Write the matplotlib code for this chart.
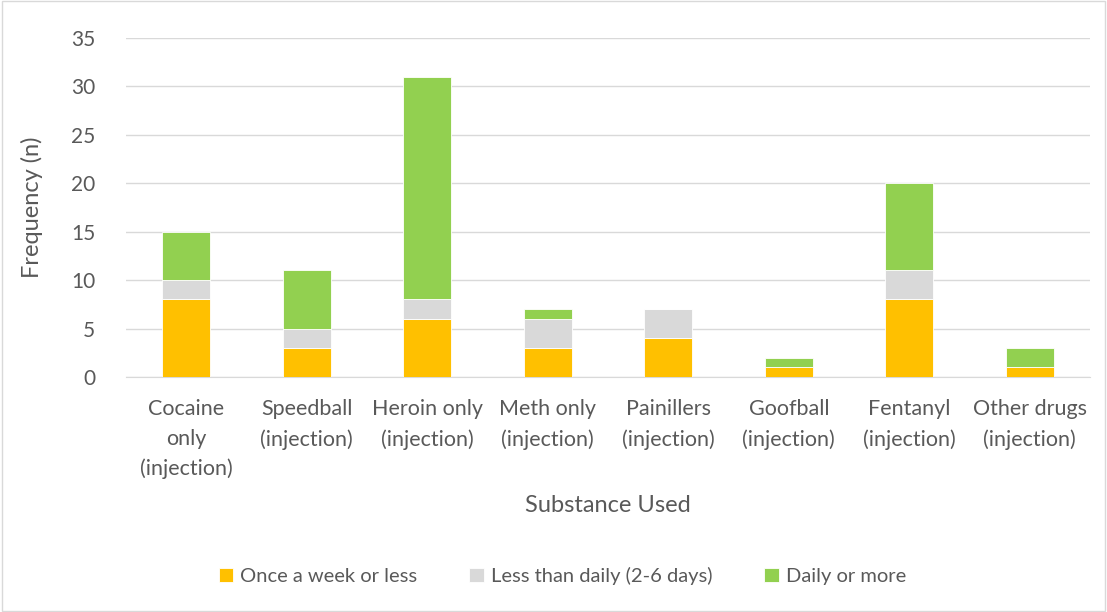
import numpy as np
import matplotlib.pyplot as plt
from matplotlib.patches import Rectangle

categories = ["Cocaine\nonly\n(injection)", "Speedball\n(injection)", "Heroin only\n(injection)",
              "Meth only\n(injection)", "Painillers\n(injection)", "Goofball\n(injection)",
              "Fentanyl\n(injection)", "Other drugs\n(injection)"]
once_weekly = [8, 3, 6, 3, 4, 1, 8, 1]
less_daily = [2, 2, 2, 3, 3, 0, 3, 0]
daily = [5, 6, 23, 1, 0, 1, 9, 2]

plt.rcParams['font.family'] = ['Lato', 'DejaVu Sans']
txt = "#595959"

fig = plt.figure(figsize=(11.07, 6.12), dpi=100)
ax = fig.add_axes([0.1138, 0.384, 0.8709, 0.554])
fig.patches.append(Rectangle((0.002, 0.002), 0.996, 0.996, transform=fig.transFigure,
                             fill=False, edgecolor="#D9D9D9", linewidth=1))

x = np.arange(len(categories))
w = 0.4
b1 = np.array(once_weekly)
b2 = b1 + np.array(less_daily)
ax.bar(x, once_weekly, w, color="#FFC000", edgecolor="white", linewidth=0.6,
       label="Once a week or less", zorder=3)
ax.bar(x, less_daily, w, bottom=b1, color="#D9D9D9", edgecolor="white", linewidth=0.6,
       label="Less than daily (2-6 days)", zorder=3)
ax.bar(x, daily, w, bottom=b2, color="#92D050", edgecolor="white", linewidth=0.6,
       label="Daily or more", zorder=3)

ax.set_xlim(-0.5, len(categories) - 0.5)
ax.set_ylim(0, 35)
ax.set_yticks(range(0, 36, 5))
ax.yaxis.grid(True, color="#D9D9D9", linewidth=1)
ax.set_axisbelow(True)
for s in ["top", "right", "left"]:
    ax.spines[s].set_visible(False)
ax.spines["bottom"].set_color("#D9D9D9")
ax.tick_params(length=0, labelsize=15, colors=txt)
ax.tick_params(axis="y", pad=22)
ax.tick_params(axis="x", pad=16, labelsize=15.5)
ax.set_xticks(x)
ax.set_xticklabels(categories, linespacing=1.6)
ax.set_ylabel("Frequency (n)", fontsize=17, color=txt, labelpad=20)
ax.set_xlabel("Substance Used", fontsize=17, color=txt, labelpad=11)

fig.legend(loc="center", bbox_to_anchor=(0.508, 0.059), ncol=3, frameon=False,
           fontsize=14.5, labelcolor=txt, handlelength=0.7, handleheight=0.7,
           handletextpad=0.35, columnspacing=2.6)

fig.savefig("out.png", dpi=100)
